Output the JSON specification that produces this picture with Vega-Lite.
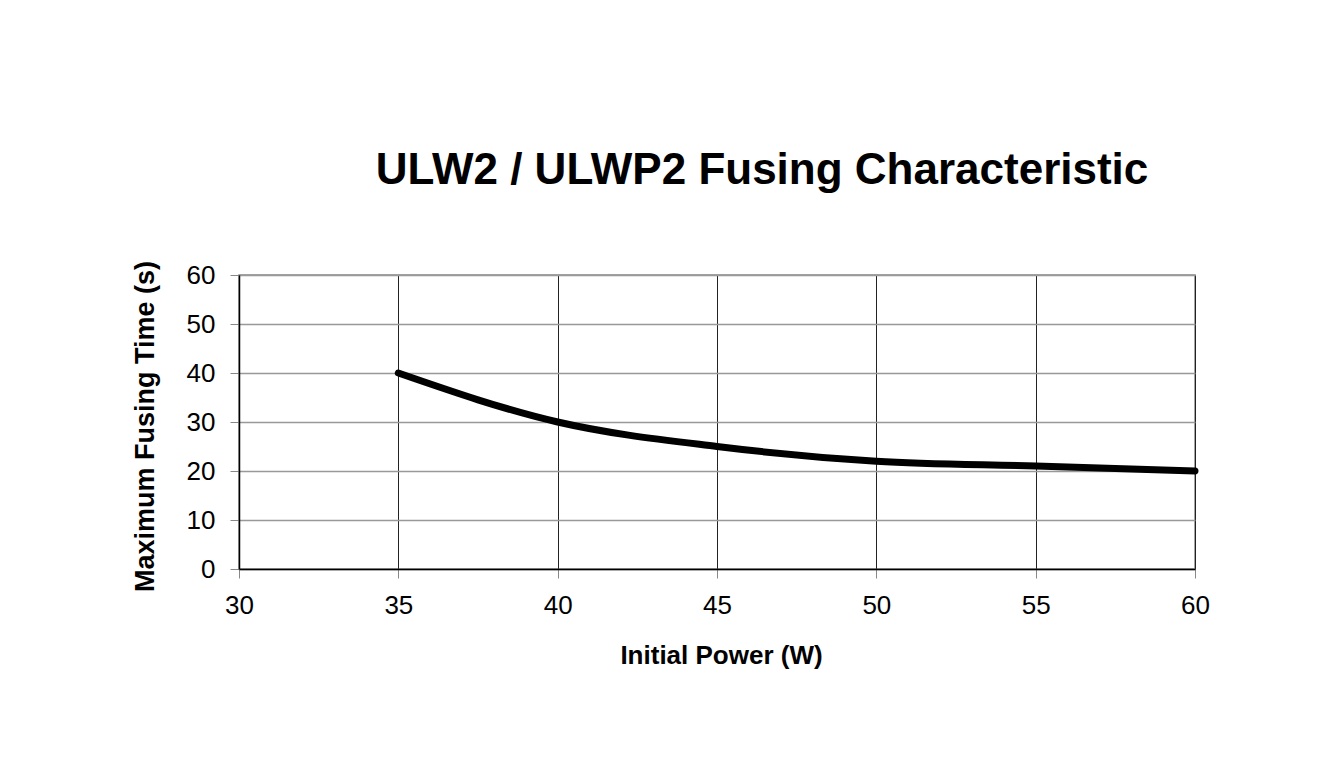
{
  "$schema": "https://vega.github.io/schema/vega-lite/v6.json",
  "width": 956,
  "height": 294,
  "autosize": {"type": "none"},
  "padding": {"left": 239, "top": 275, "right": 135, "bottom": 214},
  "background": "white",
  "title": {
    "text": "ULW2 / ULWP2 Fusing Characteristic",
    "font": "Liberation Sans",
    "fontSize": 44,
    "fontWeight": "bold",
    "color": "black",
    "anchor": "middle",
    "baseline": "alphabetic",
    "offset": 32,
    "dx": 45
  },
  "data": {
    "values": [
      {"power": 35, "time": 40},
      {"power": 40, "time": 30},
      {"power": 45, "time": 25},
      {"power": 50, "time": 22},
      {"power": 55, "time": 21},
      {"power": 60, "time": 20}
    ]
  },
  "mark": {"type": "line", "color": "black", "strokeWidth": 7, "interpolate": "monotone", "strokeCap": "round", "strokeJoin": "round"},
  "encoding": {
    "x": {
      "field": "power",
      "type": "quantitative",
      "scale": {"domain": [30, 60], "nice": false, "zero": false},
      "axis": {
        "title": "Initial Power (W)",
        "values": [30, 35, 40, 45, 50, 55, 60],
        "format": "d",
        "labelFont": "Liberation Sans",
        "labelFontSize": 26,
        "labelColor": "black",
        "labelPadding": 14,
        "labelFlush": false,
        "tickSize": 9,
        "tickColor": "#888888",
        "domainColor": "black",
        "domainWidth": 1.5,
        "gridColor": "#222222",
        "gridWidth": 1,
        "titleFont": "Liberation Sans",
        "titleFontSize": 26,
        "titleFontWeight": "bold",
        "titleColor": "black",
        "titleX": 482,
        "titleY": 94,
        "titleAlign": "center",
        "titleBaseline": "alphabetic"
      }
    },
    "y": {
      "field": "time",
      "type": "quantitative",
      "scale": {"domain": [0, 60], "nice": false},
      "axis": {
        "title": "Maximum Fusing Time (s)",
        "values": [0, 10, 20, 30, 40, 50, 60],
        "labelFont": "Liberation Sans",
        "labelFontSize": 26,
        "labelColor": "black",
        "labelPadding": 15,
        "labelFlush": false,
        "tickSize": 9,
        "tickColor": "#888888",
        "domainColor": "black",
        "domainWidth": 1.5,
        "gridColor": "#999999",
        "gridWidth": 1.5,
        "titleFont": "Liberation Sans",
        "titleFontSize": 27,
        "titleFontWeight": "bold",
        "titleColor": "black",
        "titleX": -86,
        "titleY": 151,
        "titleAngle": -90,
        "titleAlign": "center",
        "titleBaseline": "alphabetic"
      }
    }
  },
  "config": {
    "view": {"stroke": "#888888", "strokeWidth": 1.5}
  }
}
